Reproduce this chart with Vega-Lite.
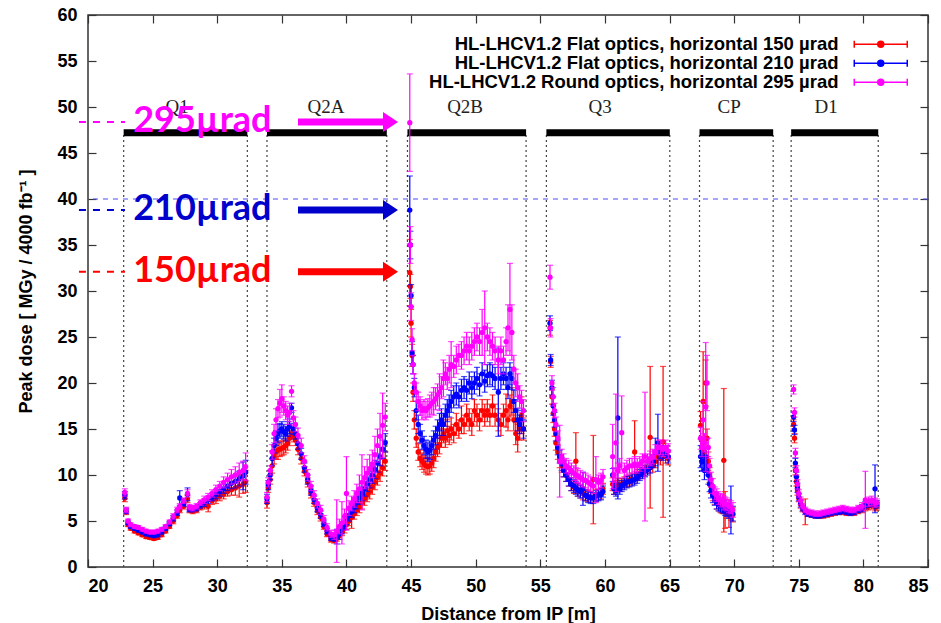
{
  "$schema": "https://vega.github.io/schema/vega-lite/v6.json",
  "width": 840,
  "height": 552,
  "autosize": {"type": "none"},
  "padding": {"left": 88, "top": 15, "right": 13, "bottom": 56},
  "background": "white",
  "config": {
    "view": {"stroke": "#333", "strokeWidth": 1.5},
    "axis": {"grid": false, "domain": false, "tickSize": -8, "tickColor": "#333", "tickWidth": 1.2,
      "labelFont": "Liberation Sans", "labelFontWeight": "bold", "labelFontSize": 18, "labelColor": "#000",
      "titleFont": "Liberation Sans", "titleFontWeight": "bold", "titleFontSize": 18, "titleColor": "#000"}
  },
  "resolve": {"axis": {"x": "independent", "y": "independent"}},
  "datasets": {
    "zones": [
      {"n": "Q1", "x1": 22.76, "x2": 32.33, "lx": 26.89},
      {"n": "Q2A", "x1": 33.85, "x2": 43.12, "lx": 38.42},
      {"n": "Q2B", "x1": 44.72, "x2": 53.9, "lx": 49.18},
      {"n": "Q3", "x1": 55.47, "x2": 65.02, "lx": 59.63},
      {"n": "CP", "x1": 67.32, "x2": 73.02, "lx": 69.61},
      {"n": "D1", "x1": 74.41, "x2": 81.15, "lx": 77.12}
    ],
    "ann": [
      {"k": "295", "t": "295µrad", "y": 48.37, "ty": 47.25},
      {"k": "210", "t": "210µrad", "y": 38.8, "ty": 37.7},
      {"k": "150", "t": "150µrad", "y": 32.1, "ty": 31.0}
    ],
    "d": [
      {"x":22.85,"r":7.5,"b":7.8,"m":8.1,"er":0.4,"eb":0.4,"em":0.4},
      {"x":22.95,"r":6.0,"b":6.1,"m":6.2,"er":0.3,"eb":0.3,"em":0.3},
      {"x":23.1,"r":4.6,"b":4.8,"m":5.0,"er":0.2,"eb":0.2,"em":0.2},
      {"x":23.3,"r":4.2,"b":4.4,"m":4.6,"er":0.2,"eb":0.2,"em":0.2},
      {"x":23.6,"r":3.9,"b":4.2,"m":4.4,"er":0.2,"eb":0.2,"em":0.2},
      {"x":23.9,"r":3.7,"b":4.0,"m":4.3,"er":0.2,"eb":0.2,"em":0.2},
      {"x":24.2,"r":3.5,"b":3.8,"m":4.1,"er":0.2,"eb":0.2,"em":0.2},
      {"x":24.5,"r":3.3,"b":3.6,"m":3.9,"er":0.2,"eb":0.2,"em":0.2},
      {"x":24.8,"r":3.2,"b":3.5,"m":3.8,"er":0.2,"eb":0.2,"em":0.2},
      {"x":25.1,"r":3.1,"b":3.4,"m":3.8,"er":0.2,"eb":0.2,"em":0.2},
      {"x":25.4,"r":3.2,"b":3.5,"m":3.9,"er":0.2,"eb":0.2,"em":0.2},
      {"x":25.7,"r":3.5,"b":3.8,"m":4.1,"er":0.2,"eb":0.2,"em":0.2},
      {"x":26.0,"r":3.9,"b":4.2,"m":4.4,"er":0.2,"eb":0.2,"em":0.2},
      {"x":26.3,"r":4.4,"b":4.7,"m":4.9,"er":0.2,"eb":0.2,"em":0.2},
      {"x":26.6,"r":5.0,"b":5.3,"m":5.5,"er":0.3,"eb":0.3,"em":0.3},
      {"x":26.9,"r":5.6,"b":5.9,"m":6.2,"er":0.3,"eb":0.3,"em":0.3},
      {"x":27.1,"r":6.2,"b":7.5,"m":6.6,"er":0.3,"eb":0.8,"em":0.3},
      {"x":27.4,"r":6.6,"b":6.9,"m":7.2,"er":0.3,"eb":0.3,"em":0.3},
      {"x":27.7,"r":7.4,"b":7.9,"m":8.0,"er":0.4,"eb":0.7,"em":0.4},
      {"x":27.85,"r":6.2,"b":6.3,"m":6.5,"er":0.3,"eb":0.3,"em":0.3},
      {"x":28.1,"r":6.1,"b":6.3,"m":6.4,"er":0.3,"eb":0.3,"em":0.3},
      {"x":28.4,"r":6.2,"b":6.4,"m":6.6,"er":0.3,"eb":0.3,"em":0.3},
      {"x":28.7,"r":6.5,"b":6.7,"m":7.0,"er":0.3,"eb":0.3,"em":0.3},
      {"x":29.0,"r":6.7,"b":7.0,"m":7.3,"er":0.4,"eb":0.4,"em":0.4},
      {"x":29.3,"r":6.6,"b":7.3,"m":7.6,"er":0.6,"eb":0.4,"em":0.4},
      {"x":29.6,"r":7.2,"b":7.6,"m":8.0,"er":0.4,"eb":0.4,"em":0.4},
      {"x":29.9,"r":7.4,"b":7.9,"m":8.4,"er":0.5,"eb":0.5,"em":0.5},
      {"x":30.2,"r":7.7,"b":8.2,"m":8.8,"er":0.5,"eb":0.5,"em":0.5},
      {"x":30.5,"r":7.9,"b":8.5,"m":9.2,"er":0.5,"eb":0.5,"em":0.6},
      {"x":30.8,"r":8.2,"b":8.8,"m":9.5,"er":0.5,"eb":0.5,"em":0.7},
      {"x":31.1,"r":8.4,"b":9.1,"m":9.8,"er":0.6,"eb":0.6,"em":0.8},
      {"x":31.4,"r":8.6,"b":9.3,"m":10.0,"er":0.8,"eb":0.7,"em":0.9},
      {"x":31.7,"r":8.8,"b":9.6,"m":10.3,"er":1.2,"eb":0.8,"em":1.0},
      {"x":32.0,"r":9.0,"b":9.9,"m":10.5,"er":1.0,"eb":1.5,"em":1.0},
      {"x":32.2,"r":9.3,"b":10.3,"m":10.9,"er":1.2,"eb":1.3,"em":1.5},
      {"x":33.85,"r":7.0,"b":7.4,"m":7.6,"er":0.6,"eb":0.5,"em":0.5},
      {"x":33.95,"r":8.6,"b":8.9,"m":9.2,"er":0.5,"eb":0.5,"em":0.5},
      {"x":34.1,"r":9.5,"b":10.0,"m":10.5,"er":0.5,"eb":0.5,"em":0.5},
      {"x":34.25,"r":11.0,"b":11.8,"m":12.5,"er":0.8,"eb":0.8,"em":0.8},
      {"x":34.4,"r":12.0,"b":13.2,"m":14.5,"er":0.8,"eb":0.8,"em":1.0},
      {"x":34.55,"r":12.5,"b":14.0,"m":16.0,"er":0.8,"eb":0.8,"em":1.2},
      {"x":34.7,"r":12.7,"b":14.5,"m":17.2,"er":1.0,"eb":1.0,"em":1.0},
      {"x":34.85,"r":12.8,"b":14.8,"m":17.8,"er":0.8,"eb":0.8,"em":1.5},
      {"x":35.0,"r":12.9,"b":15.0,"m":18.3,"er":0.8,"eb":0.8,"em":1.5},
      {"x":35.15,"r":13.0,"b":14.7,"m":17.5,"er":0.8,"eb":0.8,"em":1.0},
      {"x":35.3,"r":13.2,"b":14.5,"m":17.0,"er":0.8,"eb":0.8,"em":1.0},
      {"x":35.45,"r":13.5,"b":15.0,"m":16.5,"er":0.8,"eb":0.8,"em":1.0},
      {"x":35.6,"r":14.0,"b":15.3,"m":16.8,"er":0.8,"eb":0.8,"em":1.0},
      {"x":35.75,"r":14.5,"b":17.3,"m":19.1,"er":0.6,"eb":0.5,"em":0.6},
      {"x":35.9,"r":14.2,"b":15.0,"m":16.2,"er":0.6,"eb":0.6,"em":0.8},
      {"x":36.05,"r":13.8,"b":14.5,"m":15.5,"er":0.6,"eb":0.6,"em":0.8},
      {"x":36.25,"r":12.8,"b":13.4,"m":14.3,"er":0.6,"eb":0.6,"em":0.8},
      {"x":36.5,"r":11.8,"b":12.3,"m":13.2,"er":0.6,"eb":0.6,"em":0.8},
      {"x":36.75,"r":10.4,"b":10.8,"m":11.5,"er":0.5,"eb":0.5,"em":0.6},
      {"x":37.0,"r":9.2,"b":9.5,"m":10.0,"er":0.5,"eb":0.5,"em":0.6},
      {"x":37.25,"r":8.0,"b":8.3,"m":8.8,"er":0.5,"eb":0.5,"em":0.5},
      {"x":37.5,"r":7.0,"b":7.3,"m":7.8,"er":0.4,"eb":0.4,"em":0.5},
      {"x":37.75,"r":6.1,"b":6.4,"m":6.9,"er":0.4,"eb":0.4,"em":0.5},
      {"x":38.0,"r":5.4,"b":5.7,"m":6.2,"er":0.4,"eb":0.4,"em":0.5},
      {"x":38.25,"r":4.4,"b":4.7,"m":5.2,"er":0.3,"eb":0.3,"em":0.4},
      {"x":38.5,"r":3.6,"b":3.9,"m":4.3,"er":0.3,"eb":0.3,"em":0.4},
      {"x":38.8,"r":3.0,"b":3.2,"m":3.6,"er":0.3,"eb":0.3,"em":0.4},
      {"x":39.05,"r":2.9,"b":3.1,"m":3.5,"er":0.3,"eb":0.3,"em":0.5},
      {"x":39.25,"r":3.1,"b":3.3,"m":3.9,"er":0.3,"eb":0.8,"em":3.4},
      {"x":39.45,"r":3.4,"b":3.6,"m":4.4,"er":0.4,"eb":0.6,"em":0.8},
      {"x":39.65,"r":3.8,"b":4.1,"m":4.8,"er":0.4,"eb":0.5,"em":2.3},
      {"x":39.85,"r":4.2,"b":4.6,"m":5.5,"er":0.5,"eb":0.5,"em":0.8},
      {"x":40.0,"r":4.6,"b":5.2,"m":8.0,"er":0.5,"eb":0.6,"em":4.0},
      {"x":40.2,"r":5.0,"b":5.6,"m":6.4,"er":0.5,"eb":0.6,"em":0.8},
      {"x":40.4,"r":5.4,"b":6.0,"m":6.9,"er":1.2,"eb":0.6,"em":0.8},
      {"x":40.6,"r":5.8,"b":6.5,"m":7.4,"er":0.6,"eb":0.6,"em":0.9},
      {"x":40.8,"r":6.2,"b":7.0,"m":8.0,"er":0.6,"eb":0.7,"em":1.0},
      {"x":41.0,"r":6.5,"b":7.5,"m":8.5,"er":0.6,"eb":0.7,"em":1.5},
      {"x":41.2,"r":7.0,"b":8.0,"m":9.2,"er":0.7,"eb":0.8,"em":3.0},
      {"x":41.4,"r":7.4,"b":8.5,"m":9.7,"er":0.7,"eb":0.8,"em":1.2},
      {"x":41.6,"r":7.8,"b":9.0,"m":10.2,"er":0.7,"eb":0.8,"em":1.5},
      {"x":41.8,"r":8.2,"b":9.5,"m":10.7,"er":0.8,"eb":0.9,"em":1.5},
      {"x":42.0,"r":8.7,"b":10.0,"m":11.2,"er":0.8,"eb":0.9,"em":1.5},
      {"x":42.2,"r":9.2,"b":10.6,"m":12.2,"er":0.8,"eb":1.0,"em":2.0},
      {"x":42.4,"r":9.7,"b":11.3,"m":13.2,"er":0.8,"eb":1.0,"em":1.8},
      {"x":42.6,"r":10.2,"b":12.0,"m":14.2,"er":0.9,"eb":1.0,"em":2.5},
      {"x":42.8,"r":10.8,"b":12.8,"m":15.4,"er":0.9,"eb":1.0,"em":3.5},
      {"x":43.0,"r":11.5,"b":13.5,"m":16.3,"er":1.0,"eb":1.0,"em":1.5},
      {"x":44.9,"r":32.0,"b":38.8,"m":48.3,"er":3.6,"eb":3.7,"em":5.3},
      {"x":44.95,"r":30.5,"b":35.0,"m":35.0,"er":1.3,"eb":1.5,"em":2.0},
      {"x":45.0,"r":26.5,"b":29.5,"m":28.3,"er":1.5,"eb":1.2,"em":1.5},
      {"x":45.08,"r":23.0,"b":23.3,"m":24.7,"er":1.2,"eb":1.2,"em":1.2},
      {"x":45.15,"r":19.0,"b":22.0,"m":22.0,"er":1.0,"eb":1.0,"em":1.0},
      {"x":45.25,"r":16.0,"b":19.5,"m":20.0,"er":1.0,"eb":1.0,"em":1.0},
      {"x":45.4,"r":14.0,"b":17.0,"m":19.0,"er":1.0,"eb":1.0,"em":1.0},
      {"x":45.55,"r":12.5,"b":15.5,"m":18.0,"er":0.9,"eb":1.0,"em":1.0},
      {"x":45.7,"r":11.8,"b":14.5,"m":17.5,"er":0.9,"eb":1.0,"em":1.0},
      {"x":45.85,"r":11.5,"b":13.8,"m":17.0,"er":0.9,"eb":1.0,"em":1.0},
      {"x":46.0,"r":11.2,"b":13.2,"m":17.2,"er":0.9,"eb":1.0,"em":1.0},
      {"x":46.15,"r":11.0,"b":12.8,"m":17.0,"er":0.9,"eb":1.0,"em":1.0},
      {"x":46.3,"r":10.9,"b":12.5,"m":17.3,"er":0.9,"eb":1.0,"em":1.0},
      {"x":46.45,"r":11.0,"b":12.7,"m":17.5,"er":0.9,"eb":1.0,"em":1.2},
      {"x":46.6,"r":11.3,"b":13.2,"m":17.8,"er":0.9,"eb":1.0,"em":1.2},
      {"x":46.75,"r":11.8,"b":13.8,"m":18.0,"er":1.0,"eb":1.0,"em":1.5},
      {"x":46.9,"r":12.5,"b":14.3,"m":18.3,"er":1.0,"eb":1.0,"em":1.2},
      {"x":47.05,"r":13.0,"b":15.0,"m":18.7,"er":1.0,"eb":1.0,"em":1.2},
      {"x":47.2,"r":13.3,"b":15.5,"m":19.0,"er":1.0,"eb":1.2,"em":2.0},
      {"x":47.35,"r":14.0,"b":16.0,"m":19.5,"er":1.0,"eb":1.2,"em":1.2},
      {"x":47.5,"r":14.5,"b":15.5,"m":20.5,"er":1.0,"eb":1.2,"em":2.0},
      {"x":47.65,"r":14.0,"b":16.5,"m":21.0,"er":1.0,"eb":1.2,"em":1.2},
      {"x":47.8,"r":14.8,"b":17.0,"m":20.5,"er":1.2,"eb":1.2,"em":1.2},
      {"x":47.95,"r":14.3,"b":17.5,"m":21.5,"er":1.0,"eb":1.2,"em":1.5},
      {"x":48.1,"r":15.0,"b":18.0,"m":22.0,"er":1.2,"eb":1.2,"em":2.5},
      {"x":48.3,"r":14.5,"b":18.5,"m":21.8,"er":1.0,"eb":1.2,"em":1.2},
      {"x":48.5,"r":15.5,"b":18.8,"m":22.5,"er":1.2,"eb":1.2,"em":1.5},
      {"x":48.7,"r":15.0,"b":18.5,"m":23.0,"er":1.0,"eb":1.2,"em":1.2},
      {"x":48.9,"r":16.0,"b":19.2,"m":23.0,"er":1.5,"eb":1.2,"em":1.5},
      {"x":49.1,"r":15.5,"b":19.5,"m":23.5,"er":1.0,"eb":1.2,"em":1.5},
      {"x":49.3,"r":16.5,"b":19.2,"m":24.0,"er":1.2,"eb":1.2,"em":1.5},
      {"x":49.5,"r":16.0,"b":20.0,"m":23.5,"er":1.2,"eb":1.2,"em":1.5},
      {"x":49.7,"r":15.5,"b":19.5,"m":24.0,"er":1.2,"eb":1.2,"em":1.5},
      {"x":49.9,"r":17.0,"b":20.0,"m":24.5,"er":1.2,"eb":1.2,"em":1.5},
      {"x":50.1,"r":16.5,"b":20.5,"m":25.0,"er":1.2,"eb":1.2,"em":1.5},
      {"x":50.3,"r":16.0,"b":19.8,"m":24.5,"er":1.2,"eb":1.2,"em":1.5},
      {"x":50.5,"r":17.0,"b":21.0,"m":25.5,"er":1.2,"eb":1.2,"em":2.5},
      {"x":50.7,"r":16.5,"b":20.2,"m":26.0,"er":1.2,"eb":1.2,"em":4.0},
      {"x":50.9,"r":17.0,"b":20.8,"m":25.0,"er":1.2,"eb":1.2,"em":1.5},
      {"x":51.1,"r":16.5,"b":21.0,"m":24.5,"er":1.2,"eb":1.2,"em":1.5},
      {"x":51.3,"r":17.5,"b":20.8,"m":24.0,"er":1.2,"eb":1.2,"em":1.5},
      {"x":51.5,"r":16.5,"b":20.5,"m":23.5,"er":1.2,"eb":1.2,"em":1.5},
      {"x":51.75,"r":16.0,"b":19.0,"m":22.5,"er":1.2,"eb":4.8,"em":1.5},
      {"x":51.95,"r":15.5,"b":20.5,"m":23.5,"er":1.2,"eb":1.2,"em":1.5},
      {"x":52.15,"r":16.5,"b":21.0,"m":22.5,"er":1.2,"eb":1.2,"em":1.5},
      {"x":52.35,"r":17.0,"b":20.5,"m":24.5,"er":1.8,"eb":1.2,"em":1.5},
      {"x":52.5,"r":16.0,"b":19.5,"m":26.0,"er":1.2,"eb":1.2,"em":2.5},
      {"x":52.65,"r":17.5,"b":21.0,"m":28.0,"er":1.2,"eb":1.2,"em":5.0},
      {"x":52.8,"r":18.0,"b":20.5,"m":25.5,"er":1.5,"eb":1.2,"em":3.0},
      {"x":52.95,"r":16.0,"b":18.0,"m":21.5,"er":1.2,"eb":1.2,"em":1.5},
      {"x":53.1,"r":14.5,"b":17.0,"m":20.0,"er":1.2,"eb":1.2,"em":1.5},
      {"x":53.25,"r":14.0,"b":16.0,"m":19.5,"er":1.5,"eb":1.2,"em":1.5},
      {"x":53.4,"r":15.0,"b":15.5,"m":18.5,"er":1.2,"eb":1.0,"em":1.2},
      {"x":53.55,"r":16.5,"b":16.0,"m":18.0,"er":2.0,"eb":1.0,"em":1.2},
      {"x":53.7,"r":15.0,"b":15.0,"m":17.0,"er":1.2,"eb":1.0,"em":1.2},
      {"x":55.75,"r":26.0,"b":26.5,"m":31.5,"er":0.8,"eb":0.8,"em":1.3},
      {"x":55.8,"r":22.3,"b":22.5,"m":26.0,"er":0.6,"eb":0.6,"em":1.0},
      {"x":55.9,"r":18.5,"b":19.5,"m":20.0,"er":0.8,"eb":0.8,"em":0.8},
      {"x":56.0,"r":16.7,"b":17.5,"m":18.5,"er":1.0,"eb":1.0,"em":1.0},
      {"x":56.1,"r":15.0,"b":16.0,"m":17.0,"er":0.8,"eb":0.8,"em":0.8},
      {"x":56.2,"r":13.5,"b":14.5,"m":15.5,"er":0.8,"eb":0.8,"em":0.8},
      {"x":56.35,"r":12.5,"b":13.0,"m":14.0,"er":0.8,"eb":0.8,"em":0.8},
      {"x":56.5,"r":11.5,"b":12.0,"m":11.5,"er":0.7,"eb":0.7,"em":3.9},
      {"x":56.65,"r":11.0,"b":11.2,"m":12.0,"er":0.7,"eb":0.7,"em":0.8},
      {"x":56.8,"r":10.5,"b":10.5,"m":11.5,"er":0.7,"eb":0.7,"em":0.8},
      {"x":57.0,"r":10.0,"b":10.0,"m":11.0,"er":0.7,"eb":0.7,"em":0.8},
      {"x":57.2,"r":9.5,"b":9.5,"m":10.8,"er":0.7,"eb":0.7,"em":0.8},
      {"x":57.4,"r":9.0,"b":9.0,"m":10.5,"er":0.7,"eb":0.7,"em":0.8},
      {"x":57.6,"r":8.7,"b":8.8,"m":10.2,"er":0.7,"eb":0.7,"em":0.8},
      {"x":57.75,"r":11.5,"b":8.6,"m":10.0,"er":3.1,"eb":0.7,"em":0.8},
      {"x":57.9,"r":8.4,"b":8.4,"m":9.9,"er":0.7,"eb":0.7,"em":0.8},
      {"x":58.1,"r":8.2,"b":8.2,"m":9.7,"er":0.7,"eb":0.7,"em":0.8},
      {"x":58.3,"r":8.0,"b":8.5,"m":9.5,"er":0.7,"eb":1.8,"em":0.8},
      {"x":58.5,"r":7.8,"b":7.8,"m":9.4,"er":0.6,"eb":0.6,"em":0.8},
      {"x":58.7,"r":7.7,"b":7.6,"m":9.2,"er":0.6,"eb":0.6,"em":0.8},
      {"x":58.9,"r":7.6,"b":7.5,"m":9.0,"er":0.6,"eb":0.6,"em":0.8},
      {"x":59.1,"r":9.5,"b":7.5,"m":8.8,"er":4.8,"eb":0.6,"em":0.8},
      {"x":59.3,"r":7.8,"b":7.7,"m":9.5,"er":0.6,"eb":0.6,"em":2.5},
      {"x":59.5,"r":7.9,"b":7.8,"m":9.2,"er":0.6,"eb":0.6,"em":0.8},
      {"x":59.7,"r":8.0,"b":7.9,"m":9.4,"er":0.6,"eb":0.6,"em":0.8},
      {"x":59.85,"r":8.5,"b":8.2,"m":9.8,"er":0.6,"eb":0.6,"em":0.8},
      {"x":60.6,"r":9.0,"b":10.0,"m":12.0,"er":0.7,"eb":0.7,"em":3.5},
      {"x":60.7,"r":8.5,"b":8.5,"m":10.0,"er":0.6,"eb":0.6,"em":0.8},
      {"x":60.85,"r":8.8,"b":8.3,"m":13.5,"er":0.6,"eb":0.6,"em":5.3},
      {"x":61.0,"r":9.0,"b":16.2,"m":10.5,"er":0.6,"eb":8.8,"em":0.8},
      {"x":61.15,"r":8.8,"b":8.5,"m":11.0,"er":0.6,"eb":0.6,"em":0.8},
      {"x":61.3,"r":9.0,"b":8.8,"m":14.6,"er":0.6,"eb":0.6,"em":4.0},
      {"x":61.5,"r":9.2,"b":9.0,"m":10.5,"er":0.6,"eb":0.6,"em":0.8},
      {"x":61.7,"r":9.3,"b":9.2,"m":10.8,"er":0.6,"eb":0.6,"em":0.8},
      {"x":61.9,"r":9.4,"b":9.3,"m":11.0,"er":0.6,"eb":0.6,"em":0.8},
      {"x":62.1,"r":9.6,"b":9.4,"m":11.0,"er":0.6,"eb":0.6,"em":0.8},
      {"x":62.3,"r":12.5,"b":9.5,"m":11.2,"er":3.4,"eb":0.6,"em":0.8},
      {"x":62.5,"r":10.0,"b":9.7,"m":11.0,"er":0.6,"eb":0.6,"em":0.8},
      {"x":62.7,"r":10.2,"b":10.0,"m":11.2,"er":0.6,"eb":0.6,"em":0.8},
      {"x":62.9,"r":10.4,"b":10.2,"m":11.5,"er":0.6,"eb":0.6,"em":0.8},
      {"x":63.1,"r":10.5,"b":10.4,"m":12.0,"er":0.6,"eb":0.6,"em":7.0},
      {"x":63.3,"r":10.8,"b":10.6,"m":11.5,"er":0.6,"eb":0.6,"em":0.8},
      {"x":63.5,"r":14.1,"b":10.8,"m":11.8,"er":7.7,"eb":0.6,"em":0.8},
      {"x":63.7,"r":11.0,"b":11.5,"m":12.0,"er":0.7,"eb":0.7,"em":0.8},
      {"x":63.9,"r":11.5,"b":12.5,"m":12.5,"er":0.7,"eb":1.5,"em":0.8},
      {"x":64.1,"r":12.0,"b":13.5,"m":13.0,"er":0.7,"eb":3.1,"em":0.8},
      {"x":64.3,"r":11.8,"b":12.5,"m":13.0,"er":0.7,"eb":0.7,"em":0.8},
      {"x":64.5,"r":13.6,"b":12.3,"m":12.8,"er":8.2,"eb":0.7,"em":0.8},
      {"x":64.7,"r":12.0,"b":12.5,"m":13.0,"er":0.7,"eb":0.7,"em":0.8},
      {"x":64.9,"r":11.8,"b":12.0,"m":12.6,"er":0.7,"eb":0.7,"em":0.8},
      {"x":67.4,"r":15.4,"b":12.0,"m":14.0,"er":1.5,"eb":1.2,"em":1.2},
      {"x":67.5,"r":13.0,"b":11.4,"m":13.0,"er":1.0,"eb":1.0,"em":1.0},
      {"x":67.6,"r":18.0,"b":11.5,"m":16.0,"er":5.4,"eb":1.0,"em":2.0},
      {"x":67.7,"r":12.5,"b":10.5,"m":13.5,"er":1.0,"eb":1.0,"em":1.0},
      {"x":67.8,"r":20.0,"b":12.0,"m":17.4,"er":2.5,"eb":1.0,"em":7.0},
      {"x":67.9,"r":14.0,"b":11.0,"m":20.0,"er":1.0,"eb":1.0,"em":3.0},
      {"x":68.0,"r":11.5,"b":10.0,"m":13.0,"er":1.0,"eb":1.0,"em":1.0},
      {"x":68.1,"r":10.0,"b":9.0,"m":11.0,"er":0.8,"eb":0.8,"em":0.8},
      {"x":68.2,"r":8.8,"b":8.3,"m":9.5,"er":0.8,"eb":0.8,"em":0.8},
      {"x":68.35,"r":8.0,"b":7.8,"m":8.8,"er":0.8,"eb":0.8,"em":0.8},
      {"x":68.5,"r":7.5,"b":7.4,"m":8.0,"er":0.7,"eb":0.7,"em":0.7},
      {"x":68.65,"r":7.0,"b":7.0,"m":7.8,"er":0.7,"eb":0.7,"em":0.7},
      {"x":68.8,"r":6.8,"b":6.8,"m":7.5,"er":0.7,"eb":0.7,"em":0.7},
      {"x":68.95,"r":6.6,"b":6.7,"m":7.3,"er":0.7,"eb":0.7,"em":0.7},
      {"x":69.1,"r":6.5,"b":6.6,"m":7.2,"er":0.7,"eb":0.7,"em":0.7},
      {"x":69.2,"r":11.6,"b":6.5,"m":7.0,"er":7.8,"eb":0.7,"em":0.7},
      {"x":69.3,"r":6.2,"b":6.3,"m":6.9,"er":2.0,"eb":0.7,"em":0.7},
      {"x":69.45,"r":6.0,"b":6.2,"m":6.8,"er":0.7,"eb":0.7,"em":0.7},
      {"x":69.6,"r":5.8,"b":6.0,"m":6.6,"er":1.5,"eb":0.7,"em":0.7},
      {"x":69.75,"r":5.8,"b":6.2,"m":6.5,"er":0.7,"eb":2.6,"em":0.7},
      {"x":69.9,"r":5.7,"b":5.8,"m":6.2,"er":0.8,"eb":0.8,"em":0.8},
      {"x":74.6,"r":15.5,"b":16.3,"m":19.3,"er":0.5,"eb":0.5,"em":0.5},
      {"x":74.67,"r":14.0,"b":14.9,"m":16.8,"er":0.5,"eb":0.5,"em":0.5},
      {"x":74.74,"r":10.5,"b":11.3,"m":12.4,"er":0.5,"eb":0.5,"em":0.5},
      {"x":74.82,"r":9.3,"b":9.8,"m":10.5,"er":0.5,"eb":0.5,"em":0.5},
      {"x":74.9,"r":8.3,"b":8.6,"m":9.0,"er":0.5,"eb":0.5,"em":0.5},
      {"x":75.0,"r":7.5,"b":7.6,"m":8.0,"er":0.4,"eb":0.4,"em":0.4},
      {"x":75.15,"r":6.8,"b":6.9,"m":7.2,"er":0.4,"eb":0.4,"em":0.4},
      {"x":75.3,"r":6.3,"b":6.4,"m":6.6,"er":0.3,"eb":0.3,"em":0.3},
      {"x":75.5,"r":6.0,"b":6.0,"m":6.2,"er":1.4,"eb":0.3,"em":0.3},
      {"x":75.7,"r":5.8,"b":5.8,"m":6.0,"er":0.3,"eb":0.3,"em":0.3},
      {"x":76.0,"r":5.7,"b":5.7,"m":5.9,"er":0.3,"eb":0.3,"em":0.3},
      {"x":76.3,"r":5.6,"b":5.6,"m":5.8,"er":0.3,"eb":0.3,"em":0.3},
      {"x":76.6,"r":5.6,"b":5.6,"m":5.8,"er":0.3,"eb":0.3,"em":0.3},
      {"x":76.9,"r":5.6,"b":5.7,"m":5.9,"er":0.3,"eb":0.3,"em":0.3},
      {"x":77.2,"r":5.7,"b":5.8,"m":6.0,"er":0.3,"eb":0.3,"em":0.3},
      {"x":77.5,"r":5.8,"b":5.9,"m":6.1,"er":0.3,"eb":0.3,"em":0.3},
      {"x":77.8,"r":5.9,"b":6.0,"m":6.2,"er":0.3,"eb":0.3,"em":0.3},
      {"x":78.1,"r":6.0,"b":6.0,"m":6.3,"er":0.3,"eb":0.3,"em":0.3},
      {"x":78.4,"r":6.0,"b":6.1,"m":6.4,"er":0.3,"eb":0.3,"em":0.3},
      {"x":78.7,"r":5.9,"b":6.0,"m":6.3,"er":0.3,"eb":0.3,"em":0.3},
      {"x":79.0,"r":5.9,"b":5.9,"m":6.2,"er":0.3,"eb":0.3,"em":0.3},
      {"x":79.3,"r":5.9,"b":6.0,"m":6.2,"er":0.3,"eb":0.3,"em":0.3},
      {"x":79.6,"r":6.1,"b":6.2,"m":6.4,"er":0.3,"eb":0.3,"em":0.3},
      {"x":79.9,"r":6.3,"b":6.4,"m":6.6,"er":0.4,"eb":0.4,"em":0.4},
      {"x":80.15,"r":6.5,"b":6.7,"m":7.3,"er":0.4,"eb":0.4,"em":3.1},
      {"x":80.4,"r":6.6,"b":6.9,"m":7.1,"er":0.4,"eb":0.4,"em":0.5},
      {"x":80.65,"r":6.7,"b":7.0,"m":7.2,"er":0.4,"eb":0.4,"em":0.5},
      {"x":80.9,"r":6.5,"b":8.5,"m":7.0,"er":0.4,"eb":2.6,"em":0.5},
      {"x":81.05,"r":6.6,"b":6.8,"m":7.0,"er":0.4,"eb":0.4,"em":0.4}
    ]
  },
  "layer": [
    {
      "data": {"name": "zones"},
      "transform": [{"fold": ["x1", "x2"], "as": ["side", "bx"]}],
      "mark": {"type": "rule", "color": "#444", "strokeDash": [2, 3], "strokeWidth": 1.2},
      "encoding": {
        "x": {"field": "bx", "type": "quantitative", "scale": {"domain": [20, 85], "nice": false, "zero": false}, "axis": null},
        "y": {"datum": 0, "type": "quantitative", "scale": {"domain": [0, 60], "nice": false, "zero": false}, "axis": null},
        "y2": {"datum": 47.2}
      }
    },
    {
      "data": {"values": [{"v": 40}]},
      "mark": {"type": "rule", "color": "#4d4dff", "strokeDash": [5, 5], "strokeWidth": 1},
      "encoding": {
        "y": {"field": "v", "type": "quantitative", "scale": {"domain": [0, 60], "nice": false, "zero": false}, "axis": null}
      }
    },
    {
      "data": {"name": "zones"},
      "mark": {"type": "rule", "color": "#000", "strokeWidth": 7},
      "encoding": {
        "x": {"field": "x1", "type": "quantitative", "scale": {"domain": [20, 85], "nice": false, "zero": false},
          "axis": {"orient": "top", "labels": false, "title": null, "values": [20,25,30,35,40,45,50,55,60,65,70,75,80,85]}},
        "x2": {"field": "x2"},
        "y": {"datum": 47.2, "type": "quantitative", "scale": {"domain": [0, 60], "nice": false, "zero": false},
          "axis": {"orient": "right", "labels": false, "title": null, "values": [0,5,10,15,20,25,30,35,40,45,50,55,60]}}
      }
    },
    {
      "data": {"name": "zones"},
      "mark": {"type": "text", "font": "Liberation Serif", "fontSize": 19, "color": "#222", "align": "center", "baseline": "alphabetic"},
      "encoding": {
        "x": {"field": "lx", "type": "quantitative", "scale": {"domain": [20, 85], "nice": false, "zero": false}, "axis": null},
        "y": {"datum": 49.3, "type": "quantitative", "scale": {"domain": [0, 60], "nice": false, "zero": false}, "axis": null},
        "text": {"field": "n"}
      }
    },
    {
      "data": {"name": "d"},
      "mark": {"type": "errorbar", "ticks": {"size": 6}, "thickness": 1.2},
      "encoding": {
        "x": {"field": "x", "type": "quantitative", "scale": {"domain": [20, 85], "nice": false, "zero": false}, "axis": null},
        "y": {"field": "r", "type": "quantitative", "scale": {"domain": [0, 60], "nice": false, "zero": false}, "axis": null},
        "yError": {"field": "er"},
        "color": {"datum": "HL-LHCV1.2 Flat optics, horizontal 150 µrad", "type": "nominal",
          "scale": {"domain": ["HL-LHCV1.2 Flat optics, horizontal 150 µrad", "HL-LHCV1.2 Flat optics, horizontal 210 µrad", "HL-LHCV1.2 Round optics, horizontal 295 µrad"], "range": ["#ff0000", "#0000ff", "#ff00ff"]},
          "legend": {"orient": "none", "legendX": 783.5, "legendY": 20, "title": null, "padding": 0, "rowPadding": 0,
            "labelFont": "Liberation Sans", "labelFontWeight": "bold", "labelFontSize": 18.5, "labelColor": "#000",
            "labelAlign": "right", "labelOffset": -51.5, "labelLimit": 600, "symbolOffset": 0,
            "symbolType": "M-5.3,-0.7V0.7M-5.3,0H5.3M5.3,-0.7V0.7M0.6,0A0.6,0.6 0 1,1 -0.6,0A0.6,0.6 0 1,1 0.6,0Z",
            "symbolSize": 100, "symbolStrokeWidth": 1.5,
            "encode": {"symbols": {"update": {"fill": {"scale": "color", "field": "value"}, "stroke": {"scale": "color", "field": "value"}, "opacity": {"value": 1}}}}}
        }
      }
    },
    {
      "data": {"name": "d"},
      "mark": {"type": "point", "filled": true, "size": 28, "opacity": 1},
      "encoding": {
        "x": {"field": "x", "type": "quantitative", "scale": {"domain": [20, 85], "nice": false, "zero": false},
          "axis": {"orient": "bottom", "title": "Distance from IP [m]", "values": [20,25,30,35,40,45,50,55,60,65,70,75,80,85], "labelPadding": 18, "titlePadding": 10}},
        "y": {"field": "r", "type": "quantitative", "scale": {"domain": [0, 60], "nice": false, "zero": false},
          "axis": {"orient": "left", "title": "Peak dose [ MGy / 4000 fb⁻¹ ]", "values": [0,5,10,15,20,25,30,35,40,45,50,55,60], "labelPadding": 19, "titlePadding": 21}},
        "color": {"datum": "HL-LHCV1.2 Flat optics, horizontal 150 µrad", "type": "nominal"}
      }
    },
    {
      "data": {"name": "d"},
      "mark": {"type": "errorbar", "ticks": {"size": 6}, "thickness": 1.2},
      "encoding": {
        "x": {"field": "x", "type": "quantitative", "scale": {"domain": [20, 85], "nice": false, "zero": false}, "axis": null},
        "y": {"field": "b", "type": "quantitative", "scale": {"domain": [0, 60], "nice": false, "zero": false}, "axis": null},
        "yError": {"field": "eb"},
        "color": {"datum": "HL-LHCV1.2 Flat optics, horizontal 210 µrad", "type": "nominal"}
      }
    },
    {
      "data": {"name": "d"},
      "mark": {"type": "point", "filled": true, "size": 28, "opacity": 1},
      "encoding": {
        "x": {"field": "x", "type": "quantitative", "scale": {"domain": [20, 85], "nice": false, "zero": false}, "axis": null},
        "y": {"field": "b", "type": "quantitative", "scale": {"domain": [0, 60], "nice": false, "zero": false}, "axis": null},
        "color": {"datum": "HL-LHCV1.2 Flat optics, horizontal 210 µrad", "type": "nominal"}
      }
    },
    {
      "data": {"name": "d"},
      "mark": {"type": "errorbar", "ticks": {"size": 6}, "thickness": 1.2},
      "encoding": {
        "x": {"field": "x", "type": "quantitative", "scale": {"domain": [20, 85], "nice": false, "zero": false}, "axis": null},
        "y": {"field": "m", "type": "quantitative", "scale": {"domain": [0, 60], "nice": false, "zero": false}, "axis": null},
        "yError": {"field": "em"},
        "color": {"datum": "HL-LHCV1.2 Round optics, horizontal 295 µrad", "type": "nominal"}
      }
    },
    {
      "data": {"name": "d"},
      "mark": {"type": "point", "filled": true, "size": 28, "opacity": 1},
      "encoding": {
        "x": {"field": "x", "type": "quantitative", "scale": {"domain": [20, 85], "nice": false, "zero": false}, "axis": null},
        "y": {"field": "m", "type": "quantitative", "scale": {"domain": [0, 60], "nice": false, "zero": false}, "axis": null},
        "color": {"datum": "HL-LHCV1.2 Round optics, horizontal 295 µrad", "type": "nominal"}
      }
    },
    {
      "data": {"name": "ann"},
      "mark": {"type": "rule", "strokeDash": [7, 7], "strokeWidth": 2},
      "encoding": {
        "x": {"datum": 19.3, "type": "quantitative", "scale": {"domain": [20, 85], "nice": false, "zero": false}, "axis": null},
        "x2": {"datum": 22.86},
        "y": {"field": "y", "type": "quantitative", "scale": {"domain": [0, 60], "nice": false, "zero": false}, "axis": null},
        "stroke": {"field": "k", "type": "nominal", "scale": {"domain": ["150", "210", "295"], "range": ["#ff0000", "#0000cc", "#ff00ff"]}, "legend": null}
      }
    },
    {
      "data": {"name": "ann"},
      "mark": {"type": "rule", "strokeWidth": 7},
      "encoding": {
        "x": {"datum": 36.25, "type": "quantitative", "scale": {"domain": [20, 85], "nice": false, "zero": false}, "axis": null},
        "x2": {"datum": 42.9},
        "y": {"field": "y", "type": "quantitative", "scale": {"domain": [0, 60], "nice": false, "zero": false}, "axis": null},
        "stroke": {"field": "k", "type": "nominal", "legend": null}
      }
    },
    {
      "data": {"name": "ann"},
      "mark": {"type": "point", "filled": true, "opacity": 1, "size": 400, "shape": "M-0.75,-1L0.75,0L-0.75,1Z"},
      "encoding": {
        "x": {"datum": 43.41, "type": "quantitative", "scale": {"domain": [20, 85], "nice": false, "zero": false}, "axis": null},
        "y": {"field": "y", "type": "quantitative", "scale": {"domain": [0, 60], "nice": false, "zero": false}, "axis": null},
        "fill": {"field": "k", "type": "nominal", "scale": {"domain": ["150", "210", "295"], "range": ["#ff0000", "#0000cc", "#ff00ff"]}, "legend": null}
      }
    },
    {
      "data": {"name": "ann"},
      "mark": {"type": "text", "font": "Lato", "fontWeight": "bold", "fontSize": 36, "align": "left", "baseline": "alphabetic"},
      "encoding": {
        "x": {"datum": 23.5, "type": "quantitative", "scale": {"domain": [20, 85], "nice": false, "zero": false}, "axis": null},
        "y": {"field": "ty", "type": "quantitative", "scale": {"domain": [0, 60], "nice": false, "zero": false}, "axis": null},
        "text": {"field": "t"},
        "fill": {"field": "k", "type": "nominal", "legend": null}
      }
    }
  ]
}
